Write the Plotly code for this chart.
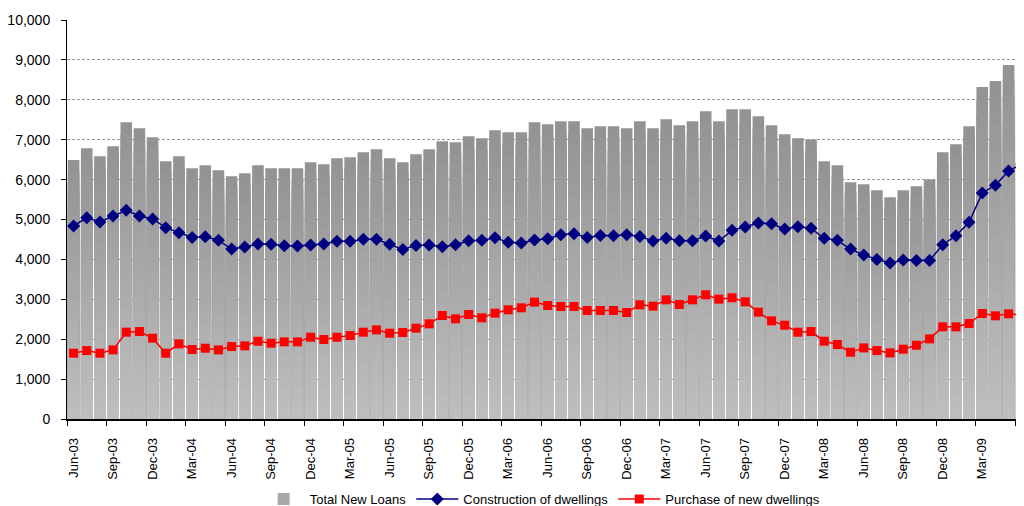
import plotly.graph_objects as go

months = [
    "Jun-03", "Jul-03", "Aug-03", "Sep-03", "Oct-03", "Nov-03", "Dec-03",
    "Jan-04", "Feb-04", "Mar-04", "Apr-04", "May-04", "Jun-04", "Jul-04", "Aug-04", "Sep-04", "Oct-04", "Nov-04", "Dec-04",
    "Jan-05", "Feb-05", "Mar-05", "Apr-05", "May-05", "Jun-05", "Jul-05", "Aug-05", "Sep-05", "Oct-05", "Nov-05", "Dec-05",
    "Jan-06", "Feb-06", "Mar-06", "Apr-06", "May-06", "Jun-06", "Jul-06", "Aug-06", "Sep-06", "Oct-06", "Nov-06", "Dec-06",
    "Jan-07", "Feb-07", "Mar-07", "Apr-07", "May-07", "Jun-07", "Jul-07", "Aug-07", "Sep-07", "Oct-07", "Nov-07", "Dec-07",
    "Jan-08", "Feb-08", "Mar-08", "Apr-08", "May-08", "Jun-08", "Jul-08", "Aug-08", "Sep-08", "Oct-08", "Nov-08", "Dec-08",
    "Jan-09", "Feb-09", "Mar-09", "Apr-09", "May-09", "Jun-09",
]

total_new_loans = [
    6490, 6787, 6586, 6837, 7439, 7289, 7063,
    6460, 6586, 6285, 6360, 6234, 6084, 6159, 6360, 6285, 6285, 6285, 6435,
    6385, 6536, 6561, 6686, 6762, 6536, 6435, 6636, 6762, 6962, 6937, 7088,
    7038, 7238, 7188, 7188, 7439, 7389, 7464, 7464, 7289, 7339, 7339, 7289,
    7464, 7289, 7515, 7364, 7464, 7715, 7464, 7766, 7766, 7590, 7364, 7138,
    7038, 7004, 6460, 6360, 5933, 5883, 5732, 5556, 5732, 5833, 6000, 6686,
    6887, 7339, 8318, 8469, 8870, 9021,
]

construction = [
    4837, 5046, 4937, 5088, 5230, 5088, 5013,
    4795, 4669, 4552, 4569, 4477, 4259, 4310, 4385, 4377, 4343, 4335, 4360,
    4385, 4452, 4452, 4502, 4502, 4377, 4251, 4351, 4360, 4318, 4368, 4469,
    4477, 4544, 4427, 4410, 4485, 4519, 4619, 4644, 4552, 4602, 4594, 4619,
    4577, 4460, 4527, 4469, 4469, 4586, 4460, 4728, 4812, 4912, 4895, 4762,
    4820, 4778, 4527, 4477, 4259, 4109, 4000, 3908, 3983, 3975, 3975, 4368,
    4594, 4929, 5665, 5858, 6218, 6385,
]

purchase = [
    1649, 1715, 1649, 1732, 2176, 2192, 2025,
    1649, 1883, 1741, 1774, 1732, 1816, 1833, 1950, 1900, 1933, 1933, 2050,
    1992, 2050, 2092, 2176, 2234, 2151, 2167, 2276, 2385, 2594, 2510, 2619,
    2536, 2653, 2736, 2787, 2929, 2845, 2820, 2820, 2720, 2720, 2720, 2669,
    2862, 2828, 2987, 2870, 2987, 3113, 3004, 3038, 2937, 2678, 2460, 2351,
    2176, 2192, 1950, 1866, 1674, 1782, 1715, 1657, 1749, 1849, 2008, 2310,
    2310, 2393, 2644, 2586, 2636, 2611,
]

y_ticks = [0, 1000, 2000, 3000, 4000, 5000, 6000, 7000, 8000, 9000, 10000]

fig = go.Figure()

# Bars with a vertical grey gradient: overlay bars of decreasing height,
# dark (top) first, lighter ones drawn on top.
n_steps = 24
dark = (147, 147, 147)
light = (190, 190, 190)
for k in range(n_steps):
    frac = 1 - k / n_steps
    t = k / (n_steps - 1)
    c = tuple(round(dark[i] + (light[i] - dark[i]) * t) for i in range(3))
    fig.add_trace(go.Bar(
        x=months,
        y=[v * frac for v in total_new_loans],
        marker=dict(color="rgb(%d,%d,%d)" % c, line=dict(width=0)),
        name="Total New Loans",
        showlegend=(k == n_steps // 2),
        legendrank=1,
        hoverinfo="skip",
    ))

fig.add_trace(go.Scatter(
    x=months, y=construction, mode="lines+markers",
    name="Construction of dwellings",
    line=dict(color="#000080", width=1.5),
    marker=dict(symbol="diamond", size=10, color="#000080"),
    legendrank=2,
))

fig.add_trace(go.Scatter(
    x=months, y=purchase, mode="lines+markers",
    name="Purchase of new dwellings",
    line=dict(color="#ff0000", width=1.5),
    marker=dict(symbol="square", size=9, color="#ff0000"),
    legendrank=3,
))

# The page body adds an 8px offset, so the figure is sized to fill the rest.
fig.update_layout(
    width=1016, height=498,
    margin=dict(l=59, r=0, t=12, b=87, autoexpand=False),
    paper_bgcolor="white", plot_bgcolor="white",
    barmode="overlay", bargap=0.12,
    font=dict(family="Liberation Sans, Arial, sans-serif", size=13, color="black"),
    showlegend=True,
    legend=dict(
        orientation="h", x=0.496, xanchor="center",
        y=-0.238, yanchor="bottom",
        bgcolor="rgba(0,0,0,0)",
        font=dict(family="Liberation Sans, Arial, sans-serif", size=13),
        itemwidth=42, tracegroupgap=0,
    ),
    xaxis=dict(
        type="category",
        range=[-0.5, 72.17],
        dtick=3,
        tickson="boundaries",
        ticks="outside", ticklen=5, tickcolor="black",
        tickangle=-90,
        tickfont=dict(size=13),
        ticklabelstandoff=12,
        showline=True, linecolor="black", linewidth=1.5,
        showgrid=False, zeroline=False,
        automargin=False,
    ),
    yaxis=dict(
        range=[0, 10000],
        tickvals=y_ticks,
        tickformat=",",
        ticks="outside", ticklen=5, tickcolor="black",
        ticklabelstandoff=8,
        showline=True, linecolor="black", linewidth=1,
        showgrid=True, gridcolor="#999999", griddash="3px,2px", gridwidth=1,
        zeroline=False,
        tickfont=dict(size=14),
        automargin=False,
    ),
)

fig.write_html("out.html")
